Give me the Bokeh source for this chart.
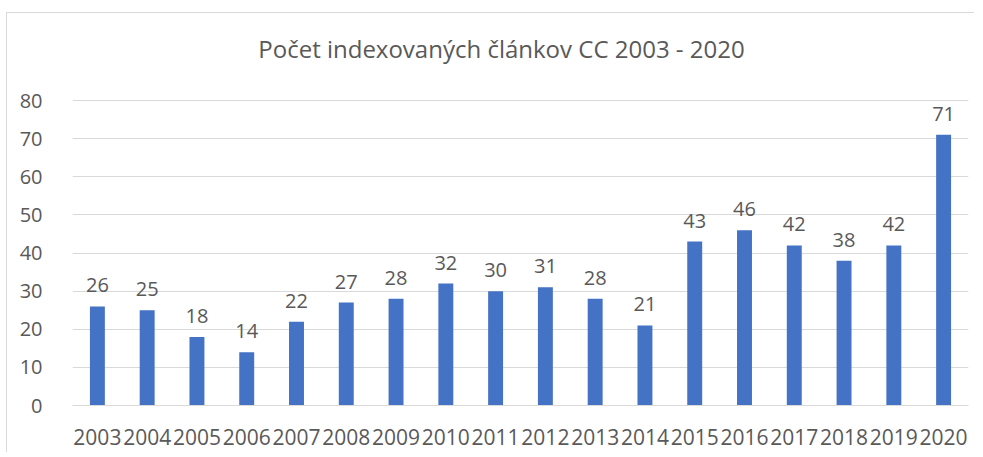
from bokeh.plotting import figure
from bokeh.models import ColumnDataSource, Range1d, FactorRange, LabelSet, Label
from bokeh.core.properties import value
from bokeh.embed import file_html
from bokeh.resources import INLINE

years = ["2003", "2004", "2005", "2006", "2007", "2008", "2009", "2010", "2011",
         "2012", "2013", "2014", "2015", "2016", "2017", "2018", "2019", "2020"]
counts = [26, 25, 18, 14, 22, 27, 28, 32, 30, 31, 28, 21, 43, 46, 42, 38, 42, 71]
y_ticks = [0, 10, 20, 30, 40, 50, 60, 70, 80]
title_text = "Počet indexovaných článkov CC 2003 - 2020"

FONT = "Open Sans"
TXT = "#595959"
GRID = "#d9d9d9"
BAR = "#4472c4"

src = ColumnDataSource(dict(x=years, y=counts, lab=[str(c) for c in counts]))

W, H = 968, 440
# frame extends above the 80 gridline to leave room for the title inside it
p = figure(width=W, height=H, x_range=FactorRange(*years), y_range=Range1d(0, 101),
           output_backend="svg", toolbar_location=None,
           min_border_left=65, min_border_right=7, min_border_top=7, min_border_bottom=48)
p.margin = (12, 0, 0, 6)
p.styles = {"border-left": "1px solid #d9d9d9", "border-top": "1px solid #d9d9d9"}
p.outline_line_color = None
p.background_fill_color = "white"
p.border_fill_color = "white"

p.add_layout(Label(x=429, y=357, x_units="screen", y_units="screen", text=title_text,
                   text_align="center", text_baseline="middle",
                   text_font=FONT, text_font_size="24px", text_color=TXT))

p.vbar(x="x", top="y", width=0.3, source=src, fill_color=BAR, line_color=None)

p.add_layout(LabelSet(x="x", y="y", text="lab", source=src, y_offset=14,
                      text_align="center", text_baseline="bottom",
                      text_font=value(FONT), text_font_size=value("20px"), text_color=TXT))

p.xgrid.grid_line_color = None
p.ygrid.grid_line_color = GRID
p.ygrid.grid_line_width = 1
p.yaxis.ticker = y_ticks

p.yaxis.axis_line_color = None
p.yaxis.major_tick_line_color = None
p.yaxis.minor_tick_line_color = None
p.yaxis.major_label_standoff = 24
p.yaxis.major_label_text_font = FONT
p.yaxis.major_label_text_font_size = "20px"
p.yaxis.major_label_text_color = TXT

p.xaxis.axis_line_color = GRID
p.xaxis.axis_line_width = 1
p.xaxis.major_tick_line_color = None
p.xaxis.minor_tick_line_color = None
p.xaxis.major_label_standoff = 17
p.xaxis.major_label_text_font = FONT
p.xaxis.major_label_text_font_size = "21px"
p.xaxis.major_label_text_color = TXT

open("out.html", "w").write(file_html(p, INLINE))
